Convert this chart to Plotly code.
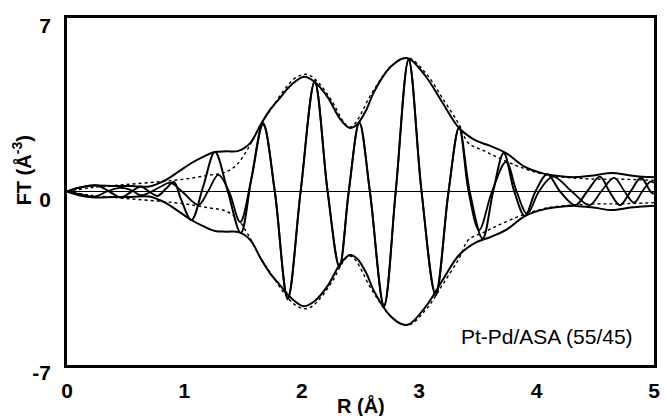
import plotly.graph_objects as go

# ---- data ----
# |FT| experimental envelope
r_mag = [0.0, 0.1, 0.24, 0.4, 0.55, 0.7, 0.84, 0.95, 1.06, 1.16, 1.26, 1.36, 1.46, 1.56,
         1.65, 1.73, 1.8, 1.91, 2.02, 2.11, 2.22, 2.33, 2.41, 2.47, 2.55, 2.61, 2.75,
         2.87, 2.92, 3.06, 3.2, 3.34, 3.48, 3.6, 3.74, 3.9, 4.07, 4.2, 4.33, 4.5, 4.64,
         4.8, 4.97, 5.0]
mag = [0.0, 0.15, 0.24, 0.22, 0.22, 0.2, 0.46, 0.8, 1.15, 1.4, 1.59, 1.62, 1.64, 1.95,
       2.7, 3.3, 3.7, 4.3, 4.63, 4.42, 3.81, 2.9, 2.56, 2.7, 3.3, 3.97, 5.0,
       5.38, 5.34, 4.62, 3.57, 2.56, 2.06, 1.85, 1.55, 0.99, 0.71, 0.62, 0.58, 0.66, 0.75,
       0.65, 0.58, 0.58]

# Im(FT) experimental
r_im = [0.0, 0.13, 0.26, 0.36, 0.46, 0.55, 0.63, 0.7, 0.77, 0.84, 0.91, 0.97, 1.06, 1.16,
        1.26, 1.37, 1.48, 1.57, 1.67, 1.77, 1.88, 1.99, 2.11, 2.22, 2.32, 2.40, 2.49,
        2.58, 2.70, 2.80, 2.91, 3.02, 3.14, 3.25, 3.34, 3.43, 3.54, 3.63, 3.72, 3.81,
        3.90, 3.99, 4.09, 4.2, 4.33, 4.43, 4.54, 4.62, 4.71, 4.8, 4.89, 4.97, 5.0]
im = [0.0, 0.18, 0.24, 0.0, -0.24, 0.0, 0.2, 0.0, -0.18, 0.1, 0.38, -0.3, -1.15, 0.2,
      1.59, 0.0, -1.67, 0.5, 2.76, 0.0, -4.29, 0.0, 4.40, 0.0, -3.04, 0.0, 2.76,
      0.0, -4.58, 0.0, 5.30, 0.0, -4.1, 0.0, 2.56, 0.0, -1.9, 0.0, 1.55, 0.0,
      -0.99, 0.0, 0.7, 0.0, -0.55, 0.0, 0.6, 0.0, -0.55, 0.0, 0.55, 0.0, -0.1]

# |FT| fit envelope (dotted)
r_fmag = [0.0, 0.2, 0.5, 0.8, 1.0, 1.2, 1.35, 1.45, 1.55, 1.65, 1.75, 1.85, 1.95, 2.05,
          2.15, 2.25, 2.41, 2.6, 2.75, 2.9, 3.06, 3.2, 3.34, 3.42, 3.55, 3.68, 3.88,
          4.1, 4.3, 4.5, 4.7, 5.0]
fmag = [0.0, 0.15, 0.28, 0.4, 0.5, 0.65, 0.78, 1.1, 1.8, 2.7, 3.4, 4.1, 4.6, 4.72,
        4.35, 3.7, 2.6, 4.0, 5.0, 5.4, 4.75, 3.75, 2.7, 1.95, 1.65, 1.35, 0.95,
        0.65, 0.55, 0.5, 0.5, 0.45]

# Im(FT) fit
r_fim = [0.0, 0.12, 0.24, 0.34, 0.45, 0.55, 0.63, 0.72, 0.8, 0.88, 0.98, 1.12, 1.2, 1.29,
         1.38, 1.475, 1.57, 1.67, 1.77, 1.88, 1.99, 2.11, 2.22, 2.32, 2.40, 2.49, 2.58,
         2.70, 2.80, 2.91, 3.02, 3.14, 3.25, 3.34, 3.42, 3.51, 3.62, 3.74, 3.83, 3.92,
         4.02, 4.14, 4.3, 4.45, 4.55, 4.66, 4.75, 4.83, 4.9, 4.97, 5.0]
fim = [0.0, -0.12, -0.2, 0.0, 0.15, 0.05, -0.15, 0.0, 0.2, 0.36, 0.0, -0.54, 0.0, 0.67,
       0.0, -1.23, 0.5, 2.7, 0.0, -4.35, 0.0, 4.45, 0.0, -3.0, 0.0, 2.8, 0.0,
       -4.65, 0.0, 5.35, 0.0, -4.2, 0.0, 2.6, 0.0, -1.55, 0.0, 1.19, 0.0, -0.9,
       0.0, 0.6, 0.0, -0.55, 0.0, 0.55, 0.0, -0.45, 0.0, 0.4, 0.35]

x_ticks = [0, 1, 2, 3, 4, 5]
y_ticks = [-7, 0, 7]
sample_label = "Pt-Pd/ASA (55/45)"

FONT = "Liberation Sans, Arial, sans-serif"

fig = go.Figure()
solid = dict(color="black", width=2, shape="spline", smoothing=1.0)
dotted = dict(color="black", width=1.4, dash="dot", shape="spline", smoothing=1.0)

fig.add_trace(go.Scatter(x=r_fmag, y=fmag, mode="lines", line=dotted))
fig.add_trace(go.Scatter(x=r_fmag, y=[-v for v in fmag], mode="lines", line=dotted))
fig.add_trace(go.Scatter(x=r_fim, y=fim, mode="lines", line=dict(solid, width=1.8)))
fig.add_trace(go.Scatter(x=r_mag, y=mag, mode="lines", line=solid))
fig.add_trace(go.Scatter(x=r_mag, y=[-v for v in mag], mode="lines", line=solid))
fig.add_trace(go.Scatter(x=r_im, y=im, mode="lines", line=solid))

fig.update_layout(
    width=667, height=416,
    margin=dict(l=67, r=7, t=18, b=51),
    paper_bgcolor="white", plot_bgcolor="white",
    showlegend=False,
    font=dict(family=FONT, color="black"),
)
fig.update_xaxes(
    range=[0, 5], tickvals=x_ticks, ticktext=[str(v) for v in x_ticks],
    showgrid=False, zeroline=False, ticks="",
    showline=True, linecolor="black", linewidth=2.5, mirror=True,
    tickfont=dict(size=21, weight="bold", family=FONT, color="black"),
    ticklabelstandoff=5,
)
fig.update_yaxes(
    range=[-7, 7], tickvals=y_ticks, ticktext=[str(v) for v in y_ticks],
    showgrid=False, zeroline=True, zerolinecolor="black", zerolinewidth=1,
    ticks="", showline=True, linecolor="black", linewidth=2.5, mirror=True,
    tickfont=dict(size=21, weight="bold", family=FONT, color="black"),
    ticklabelstandoff=9, ticklabelshift=8,
)

fig.add_annotation(text="FT (Å<sup>-3</sup>)", xref="paper", yref="paper",
                   x=-0.076, y=0.562, xanchor="center", yanchor="middle",
                   textangle=-90, showarrow=False,
                   font=dict(size=20, weight="bold", family=FONT, color="black"))
fig.add_annotation(text="R (Å)", xref="paper", yref="paper",
                   x=0.5, y=-0.118, xanchor="center", yanchor="middle",
                   showarrow=False,
                   font=dict(size=20, weight="bold", family=FONT, color="black"))
fig.add_annotation(text=sample_label, xref="x", yref="y",
                   x=4.84, y=-5.83, xanchor="right", yanchor="middle",
                   showarrow=False,
                   font=dict(size=21, family=FONT, color="black"))

fig.write_html("out.html")
